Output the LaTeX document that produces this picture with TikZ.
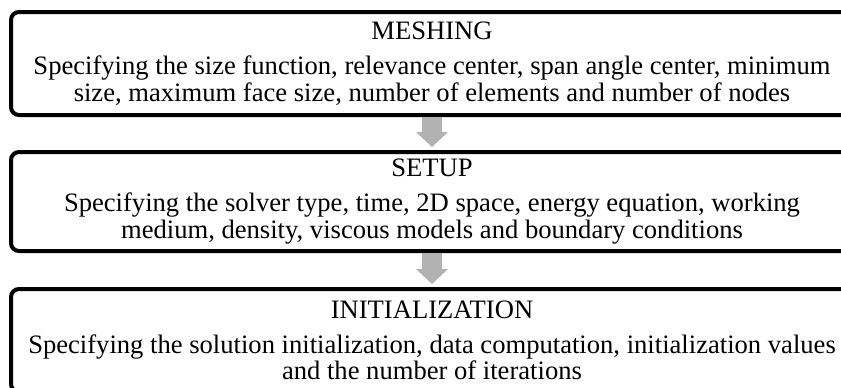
\documentclass[tikz,border=0pt]{standalone}
\usepackage{fontspec}
\setmainfont{Liberation Serif}
\usetikzlibrary{arrows.meta}
\definecolor{arrowgray}{gray}{0.7}

\begin{document}
\begin{tikzpicture}[x=0.5pt,y=-0.5pt,
        stage/.style={draw, line width=2pt, rounded corners=4pt, minimum width=421pt,
            align=center, inner sep=0pt, font=\fontsize{13.3}{11.5}\selectfont},
        flowarrow/.style={draw=arrowgray, line width=10pt,
            -{Triangle[length=7.5pt,width=16pt,line width=0pt]}, shorten >=1.5pt}]
        \useasboundingbox (0,0) rectangle (841,387);
        \node[stage, minimum height=51.5pt] (mesh) at (432,63.5) {MESHING\\[6pt]
            Specifying the size function, relevance center, span angle center, minimum\\
            size, maximum face size, number of elements and number of nodes};
        \node[stage, minimum height=49.5pt] (setup) at (432,201.5) {SETUP\\[6pt]
            Specifying the solver type, time, 2D space, energy equation, working\\
            medium, density, viscous models and boundary conditions};
        \node[stage, minimum height=51.5pt] (init) at (432,340.5) {INITIALIZATION\\[6pt]
            Specifying the solution initialization, data computation, initialization values\\
            and the number of iterations};
        \draw[flowarrow] (mesh) -- (setup);
        \draw[flowarrow] (setup) -- (init);
        \end{tikzpicture}
\end{document}
